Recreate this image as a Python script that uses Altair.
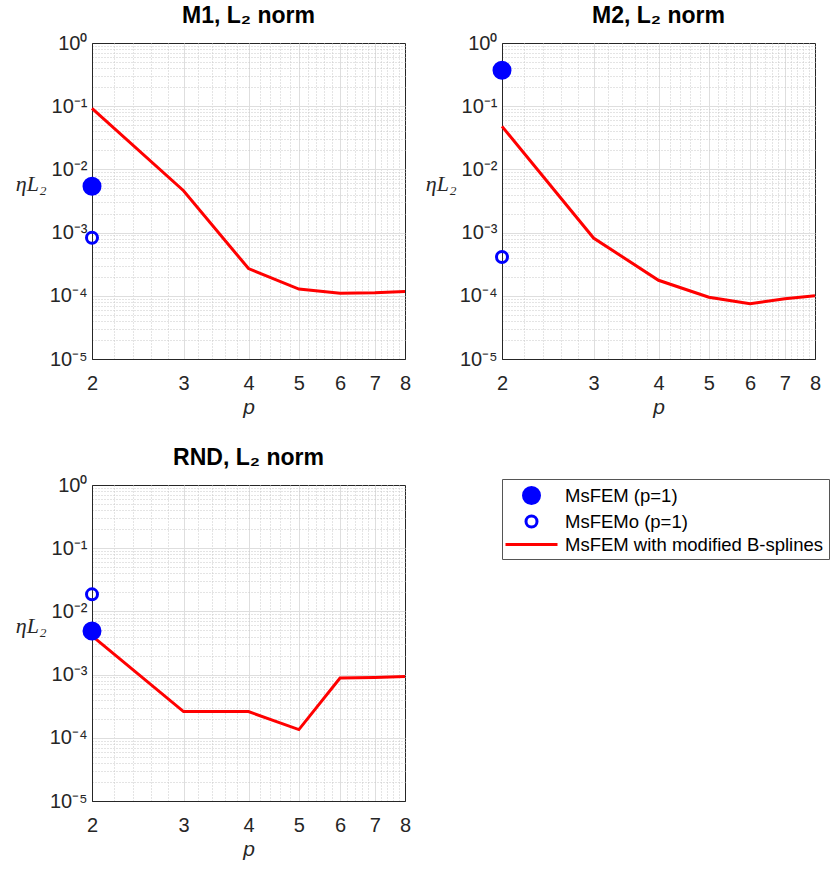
import altair as alt
import pandas as pd

# ---------------- data ----------------
p_values = [2, 3, 4, 5, 6, 7, 8]
m1_bspline = [0.092, 0.0046, 2.7e-4, 1.28e-4, 1.1e-4, 1.12e-4, 1.17e-4]
m2_bspline = [0.048, 8.2e-4, 1.76e-4, 9.5e-5, 7.5e-5, 9.0e-5, 1.0e-4]
rnd_bspline = [4.1e-3, 2.6e-4, 2.6e-4, 1.35e-4, 8.8e-4, 9.0e-4, 9.3e-4]
panel_names = ["M1", "M2", "RND"]
msfem_p1 = [5.4e-3, 0.37, 4.9e-3]
msfemo_p1 = [8.3e-4, 4.1e-4, 1.86e-2]
series_names = ["MsFEM (p=1)", "MsFEMo (p=1)", "MsFEM with modified B-splines"]
x_label_ticks = [2, 3, 4, 5, 6, 7, 8]
y_decades = [1e-5, 1e-4, 1e-3, 1e-2, 1e-1, 1]

# grid positions (major + minor)
x_grid = [round(2 + 0.2 * i, 1) for i in range(31)]
y_grid = [k * 10.0 ** e for e in range(-5, 0) for k in range(1, 10)] + [1]

FONT = "Liberation Sans"
AX = "#262626"

is_decade = "abs(log(datum.value)/LN10 - round(log(datum.value)/LN10)) < 1e-6"
is_int = "abs(datum.value - round(datum.value)) < 1e-6"

y_label_expr = (
    f"({is_decade}) ? '10' + (round(log(datum.value)/LN10) < 0 ? '\u207b' : '') + "
    "['\u2070','\u00b9','\u00b2','\u00b3','\u2074','\u2075'][abs(round(log(datum.value)/LN10))] : ''"
)
x_label_expr = f"({is_int}) ? format(datum.value, 'd') : ''"

x_axis = alt.Axis(
    values=x_grid,
    labelExpr=x_label_expr,
    labelOverlap=False,
    labelFlush=False,
    labelFont=FONT,
    labelFontSize=20,
    labelColor=AX,
    labelPadding=14,
    ticks=False,
    domainColor=AX,
    grid=True,
    gridColor={"condition": {"test": is_int, "value": "#dedede"}, "value": "#c8c8c8"},
    gridDash={"condition": {"test": is_int, "value": []}, "value": [1, 2]},
    gridOpacity={"condition": {"test": "datum.value <= 2.0001 || datum.value >= 7.9999", "value": 0}, "value": 1},
    title="p",
    titleFont=FONT,
    titleFontSize=21,
    titleFontStyle="italic",
    titleFontWeight="normal",
    titleColor=AX,
    titlePadding=3,
)

y_axis = alt.Axis(
    values=y_grid,
    labelExpr=y_label_expr,
    labelOverlap=False,
    labelFlush=False,
    labelFont=FONT,
    labelFontSize=20,
    labelColor=AX,
    labelPadding=5,
    ticks=False,
    domainColor=AX,
    grid=True,
    gridColor={"condition": {"test": is_decade, "value": "#dedede"}, "value": "#c8c8c8"},
    gridDash={"condition": {"test": is_decade, "value": []}, "value": [1, 2]},
    gridOpacity={"condition": {"test": "datum.value <= 1.0001e-5 || datum.value >= 0.9999", "value": 0}, "value": 1},
    title="\u03b7L\u2082",
    titleAngle=0,
    titleAlign="right",
    titleBaseline="middle",
    titleY=140,
    titleFont="Liberation Serif",
    titleFontSize=22,
    titleFontStyle="italic",
    titleFontWeight="normal",
    titleColor=AX,
    titlePadding=3,
)

shape_paths = [
    "M-0.8,0A0.8,0.8,0,1,1,0.8,0A0.8,0.8,0,1,1,-0.8,0Z",
    "M-0.55,0A0.55,0.55,0,1,1,0.55,0A0.55,0.55,0,1,1,-0.55,0Z",
    "M-2.6,0L2.6,0",
]


def panel(idx, line_vals, legend):
    name = panel_names[idx]
    line_df = pd.DataFrame({"p": p_values, "eta": line_vals, "series": series_names[2]})
    pts_df = pd.DataFrame(
        {"p": [2, 2], "eta": [msfem_p1[idx], msfemo_p1[idx]], "series": series_names[:2]}
    )
    x = alt.X("p:Q", scale=alt.Scale(type="log", domain=[2, 8], nice=False), axis=x_axis)
    y = alt.Y("eta:Q", scale=alt.Scale(type="log", domain=[1e-5, 1], nice=False), axis=y_axis)
    color = alt.Color(
        "series:N",
        scale=alt.Scale(domain=series_names, range=["#0000ff", "#0000ff", "#ff0000"]),
        legend=legend,
    )
    fill = alt.Fill(
        "series:N",
        scale=alt.Scale(domain=series_names, range=["#0000ff", "transparent", "#ff0000"]),
        legend=legend,
    )
    shape = alt.Shape(
        "series:N",
        scale=alt.Scale(domain=series_names, range=shape_paths),
        legend=legend,
    )
    line = alt.Chart(line_df).mark_line(strokeWidth=3).encode(x=x, y=y, color=color)
    pts = (
        alt.Chart(pts_df)
        .mark_point(filled=False, strokeWidth=3, size=400, opacity=1)
        .encode(x=x, y=y, color=color, fill=fill, shape=shape)
    )
    return alt.layer(line, pts).properties(
        width=313,
        height=316,
        title=alt.TitleParams(
            text=f"{name}, L\u2082 norm",
            font=FONT,
            fontSize=23,
            fontWeight="bold",
            color="black",
            anchor="middle",
            offset=5,
        ),
    )


legend_obj = alt.Legend(
    title=None,
    orient="none",
    legendX=410,
    legendY=-6,
    labelFont=FONT,
    labelFontSize=18.5,
    labelColor="black",
    labelLimit=500,
    symbolSize=400,
    symbolStrokeWidth=3,
    symbolOffset=13,
    labelOffset=22,
    padding=5,
    rowPadding=0,
    strokeColor="#555555",
    fillColor="white",
    cornerRadius=0,
)

p1 = panel(0, m1_bspline, None)
p2 = panel(1, m2_bspline, None)
p3 = panel(2, rnd_bspline, legend_obj)

chart = (
    alt.vconcat(alt.hconcat(p1, p2, spacing=12), p3, spacing=28)
    .resolve_scale(color="independent", fill="independent", shape="independent")
    .properties(padding={"left": 14, "top": 4, "right": 0, "bottom": 0})
    .configure_view(stroke=AX, strokeWidth=1)
)

chart.save("out.html", embed_options={"renderer": "svg", "actions": False})
